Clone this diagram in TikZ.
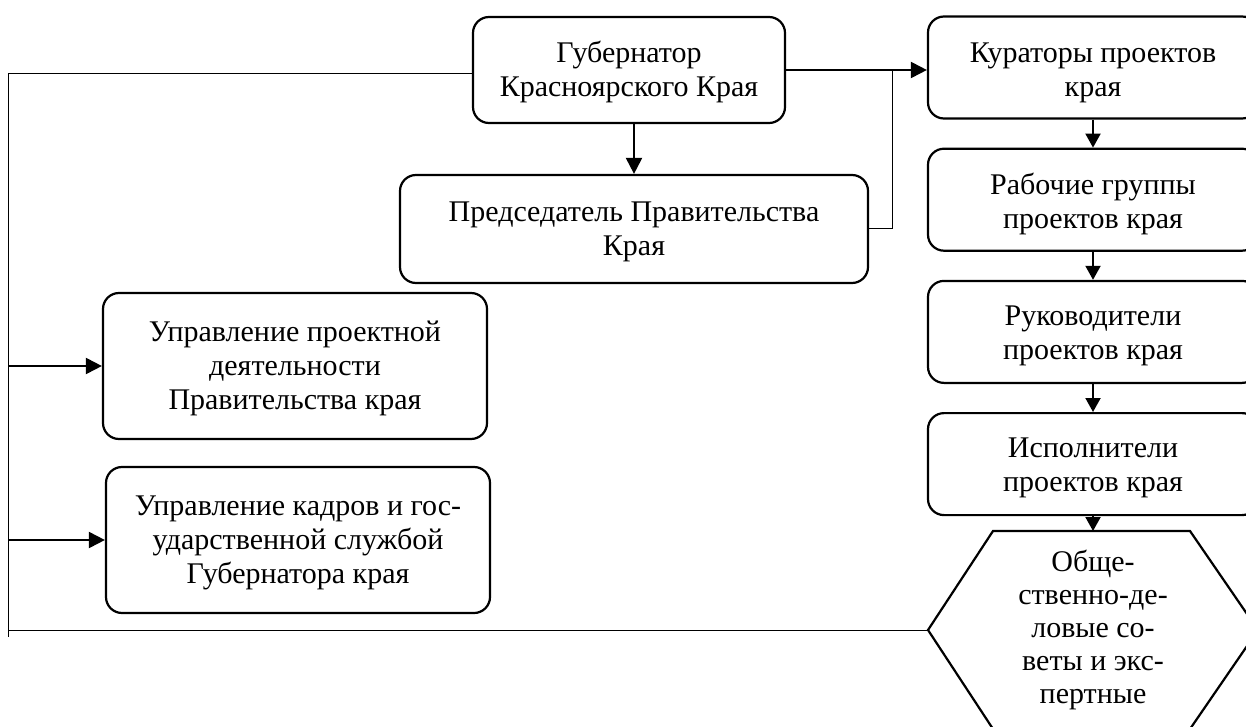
\documentclass[tikz,border=0pt]{standalone}
\usepackage{fontspec}
\setmainfont{Liberation Serif}
\usetikzlibrary{arrows.meta, positioning}

\newcommand{\boxtext}[4][9pt]{\parbox[c][#3][t]{#2}{\centering\vspace*{#1}\strut#4}}

\begin{document}
\begin{tikzpicture}[
x=0.5pt, y=-0.5pt,
node distance=14pt,
box/.style={rectangle, draw, line width=1.1pt, rounded corners=8pt, inner sep=2pt, font=\fontsize{15}{17}\selectfont},
arrow/.style={line width=1pt, -{Triangle[length=8pt, width=8pt]}},
smallarrow/.style={line width=1pt, -{Triangle[length=7pt, width=7.5pt]}},
thinline/.style={line width=0.5pt}
]
\useasboundingbox (0,0) rectangle (1246,727);
\clip (0,0) rectangle (1246,727);

\node (gov) [box] at (629,70) {\boxtext{152pt}{49pt}{Губернатор\\ Красноярского Края}};
\node (chair) [box] at (634,229) {\boxtext[9.5pt]{230pt}{50pt}{Председатель Правительства\\ Края}};
\node (upd) [box] at (295,366) {\boxtext[10.5pt]{188pt}{69pt}{Управление проектной\\ деятельности\\ Правительства края}};
\node (ukg) [box] at (298,540) {\boxtext[10.5pt]{188pt}{69pt}{Управление кадров и гос-\\ ударственной службой\\ Губернатора края}};

\node (cur) [box] at (1093,67.5) {\boxtext{161pt}{47pt}{Кураторы проектов\\ края}};
\node (wg) [box, below=of cur] {\boxtext{161pt}{47pt}{Рабочие группы\\ проектов края}};
\node (lead) [box, below=of wg] {\boxtext[8.5pt]{161pt}{47pt}{Руководители\\ проектов края}};
\node (exe) [box, below=of lead] {\boxtext[8.5pt]{161pt}{47pt}{Исполнители\\ проектов края}};

\draw [line width=1.1pt] (928,630) coordinate (hexW) -- (993,531) -- (1190,531) -- (1258,630) -- (1190,729) -- (993,729) -- cycle;
\coordinate (hexN) at (1093,531);
\node (hex) [align=center, font=\fontsize{15}{16.5}\selectfont] at (1093,630) {Обще-\\ ственно-де-\\ ловые со-\\ веты и экс-\\ пертные};

\coordinate (split) at (892,70);
\coordinate (busTop) at (8,74);
\coordinate (busEnd) at (8,637);

\draw [arrow] (gov.south -| chair.north) -- (chair.north);
\draw [arrow] (gov.east) -- (gov.east -| cur.west);
\draw [thinline] (chair.east) -| (split);
\draw [thinline] (gov.west |- busTop) -- (busTop) -- (busEnd);
\draw [arrow] (busTop |- upd) -- (upd.west);
\draw [arrow] (busTop |- ukg) -- (ukg.west);
\draw [thinline] (busTop |- hexW) -- (hexW);

\draw [smallarrow] (cur) -- (wg);
\draw [smallarrow] (wg) -- (lead);
\draw [smallarrow] (lead) -- (exe);
\draw [smallarrow] (exe) -- (hexN);

\end{tikzpicture}
\end{document}
